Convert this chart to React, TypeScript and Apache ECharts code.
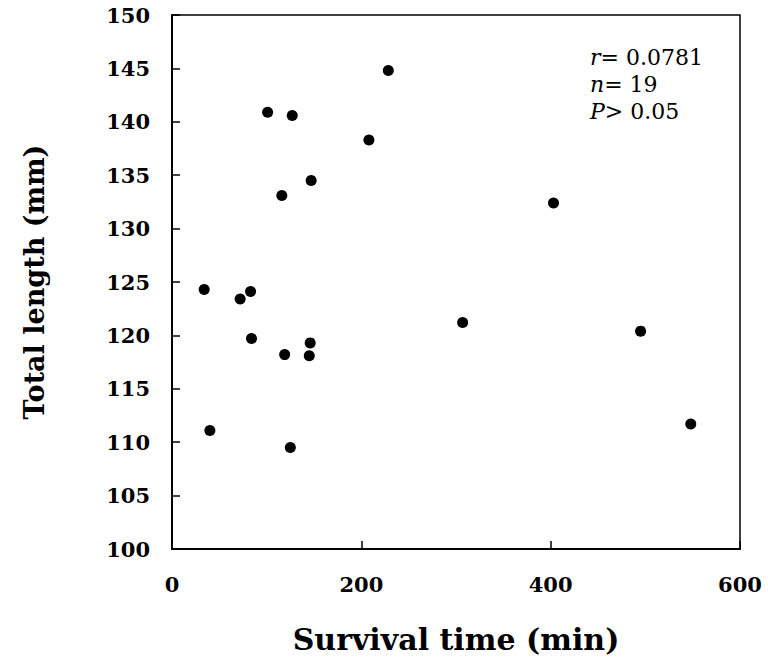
import React, { useEffect, useRef } from "react";
import * as echarts from "echarts";

const survivalTime = [228.5, 101, 127, 208, 147, 116, 403, 307, 495, 34, 72, 83, 84, 119, 146, 145, 40, 125, 548];
const totalLength = [144.8, 140.9, 140.6, 138.3, 134.5, 133.1, 132.4, 121.2, 120.4, 124.3, 123.4, 124.1, 119.7, 118.2, 119.3, 118.1, 111.1, 109.5, 111.7];
const xRange = [0, 600];
const xStep = 200;
const yRange = [100, 150];
const yStep = 5;
const xTitle = "Survival time (min)";
const yTitle = "Total length (mm)";
const statLines = [
  { sym: "r", rest: "= 0.0781" },
  { sym: "n", rest: "= 19" },
  { sym: "P", rest: "> 0.05" },
];

const SERIF = "'DejaVu Serif', serif";

export default function App() {
  const ref = useRef<HTMLDivElement>(null);
  useEffect(() => {
    if (!ref.current) return;
    const chart = echarts.init(ref.current, undefined, { renderer: "svg" });
    const points = survivalTime.map((x, i) => [x, totalLength[i]]);
    chart.setOption({
      animation: false,
      backgroundColor: "#fff",
      grid: {
        left: 172,
        right: 28,
        top: 15,
        bottom: 110,
        show: true,
        borderColor: "#000",
        borderWidth: 1.5,
        backgroundColor: "transparent",
      },
      xAxis: {
        type: "value",
        min: xRange[0],
        max: xRange[1],
        interval: xStep,
        name: xTitle,
        nameLocation: "middle",
        nameGap: 75,
        nameTextStyle: { fontFamily: SERIF, fontSize: 30, fontWeight: "bold", color: "#000" },
        axisLine: { show: true, onZero: false, lineStyle: { color: "#000", width: 2 } },
        axisTick: { show: true, inside: true, length: 8, lineStyle: { color: "#000", width: 1.5 } },
        axisLabel: { fontFamily: SERIF, fontSize: 21, fontWeight: "bold", color: "#000", margin: 25 },
        splitLine: { show: false },
      },
      yAxis: {
        type: "value",
        min: yRange[0],
        max: yRange[1],
        interval: yStep,
        name: yTitle,
        nameLocation: "middle",
        nameGap: 124,
        nameTextStyle: { fontFamily: SERIF, fontSize: 27, fontWeight: "bold", color: "#000" },
        axisLine: { show: true, onZero: false, lineStyle: { color: "#000", width: 2 } },
        axisTick: { show: true, inside: true, length: 8, lineStyle: { color: "#000", width: 1.5 } },
        axisLabel: {
          fontFamily: SERIF,
          fontSize: 21,
          fontWeight: "bold",
          color: "#000",
          margin: 22,
          padding: [6, 0, 0, 0],
        },
        splitLine: { show: false },
      },
      series: [
        {
          type: "scatter",
          data: points,
          symbol: "circle",
          symbolSize: 11,
          itemStyle: { color: "#000", opacity: 1 },
        },
      ],
      graphic: statLines.map((l, i) => ({
        type: "text",
        left: 590,
        top: 46 + i * 27,
        style: {
          text: `{i|${l.sym}}{n|${l.rest}}`,
          rich: {
            i: { fontFamily: SERIF, fontSize: 22, fontStyle: "italic", fill: "#000" },
            n: { fontFamily: SERIF, fontSize: 22, fill: "#000" },
          },
        },
      })),
    });
    return () => chart.dispose();
  }, []);
  return (
    <div
      ref={ref}
      style={{ position: "absolute", left: 0, top: 0, width: 768, height: 659 }}
    />
  );
}
